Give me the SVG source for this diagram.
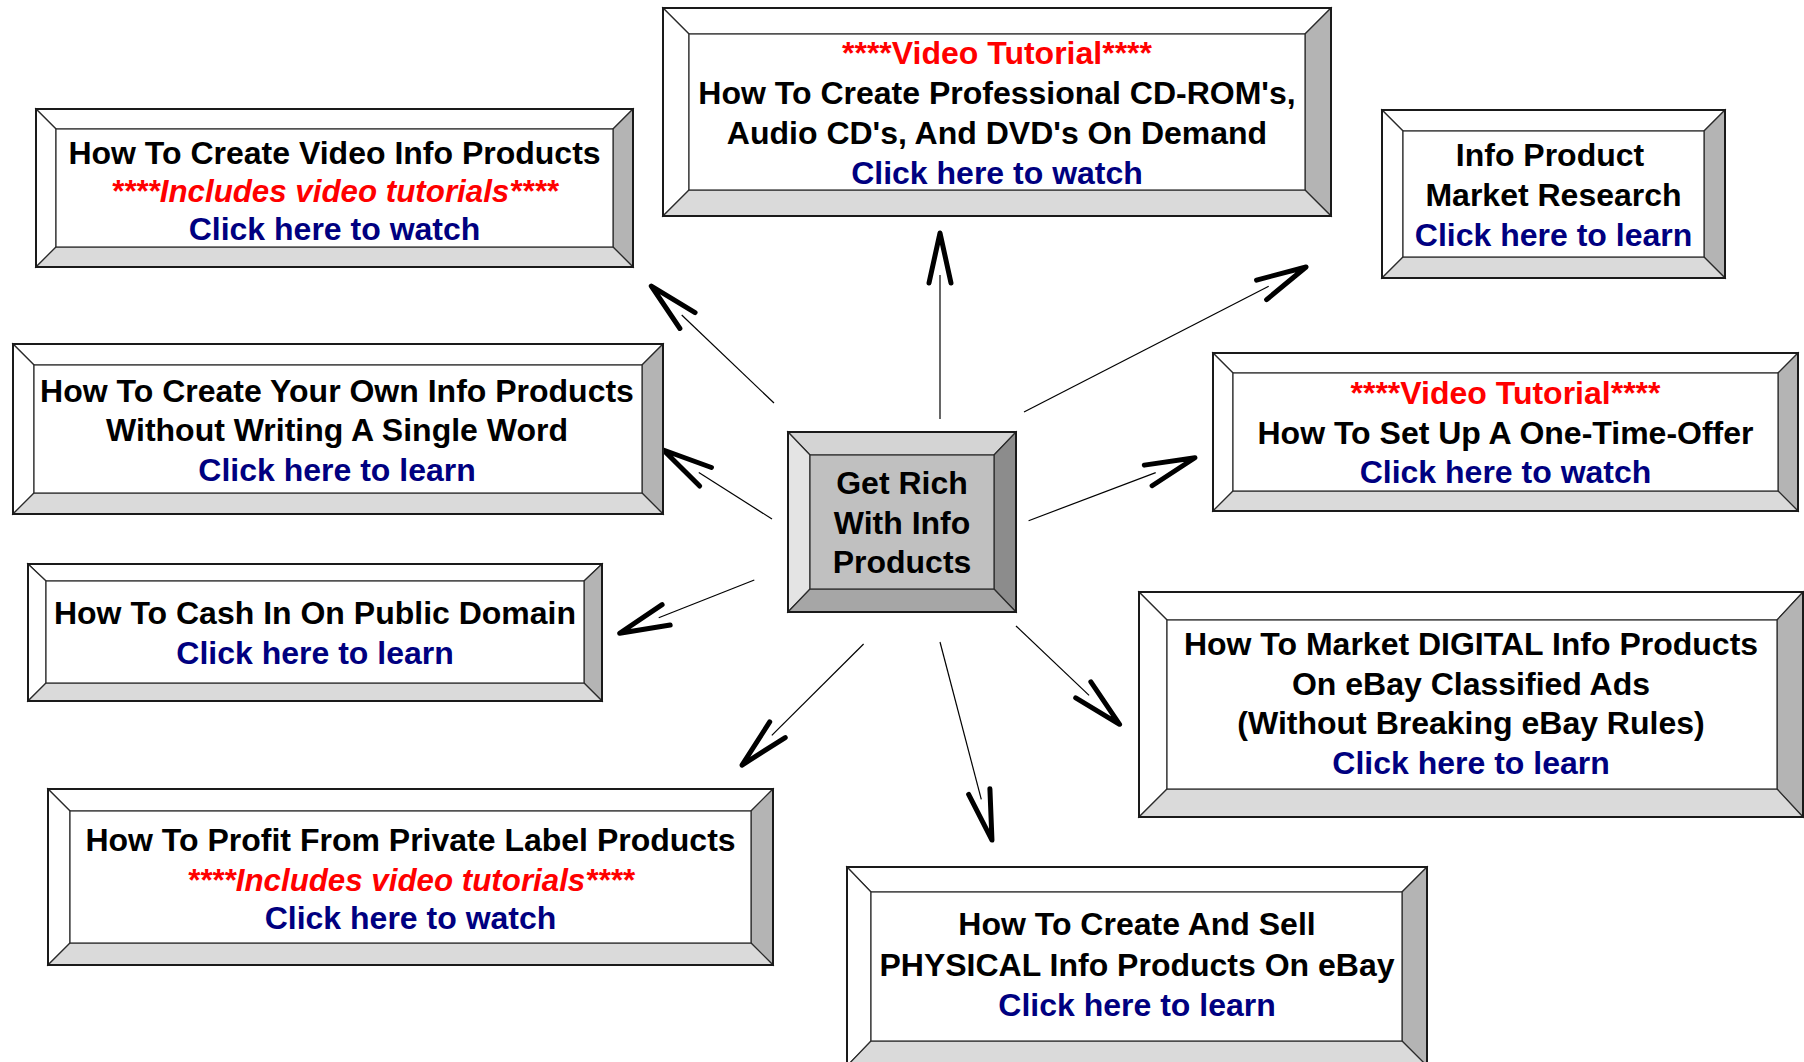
<svg xmlns="http://www.w3.org/2000/svg" width="1804" height="1062" viewBox="0 0 1804 1062">
<style>
  polygon, .in { stroke: #2a2a2a; stroke-width: 1.2; stroke-linejoin: miter; }
  .out { fill: none; stroke: #1a1a1a; stroke-width: 2; }
  .w { fill: #ffffff; }
  .r { fill: #b4b4b4; }
  .b { fill: #dadada; }
  .in { fill: #ffffff; }
  .cl { fill: #e4e4e4; }
  .ct { fill: #d4d4d4; }
  .cr { fill: #8c8c8c; }
  .cb { fill: #a6a6a6; }
  .cf { fill: #c0c0c0; }
  text { font-family: "Liberation Sans", Arial, Helvetica, sans-serif; font-weight: bold; font-size: 32px; text-anchor: middle; fill: #000000; }
  .red { fill: #ff0000; }
  .it { font-style: italic; font-size: 31.3px; }
  .lk { fill: #000080; }
  .ln { stroke: #000000; stroke-width: 1.2; fill: none; marker-end: url(#ah); }
</style>
<defs>
  <marker id="ah" markerUnits="userSpaceOnUse" markerWidth="120" markerHeight="120" viewBox="-60 -60 120 120" refX="-42" refY="0" orient="auto" overflow="visible">
    <path d="M -50 -11 L 0 0 L -50 11" fill="none" stroke="#000000" stroke-width="5" stroke-linecap="round" stroke-linejoin="round"/>
  </marker>
</defs>
<rect x="0" y="0" width="1804" height="1062" fill="#ffffff"/>

<g id="connectors">
  <path class="ln" d="M 774 403 L 681.7 315"/>
  <path class="ln" d="M 940 419 L 940 275"/>
  <path class="ln" d="M 1024 412 L 1268.7 286.2"/>
  <path class="ln" d="M 1028.6 520.7 L 1155.7 472.6"/>
  <path class="ln" d="M 772 519 L 698.8 472.5"/>
  <path class="ln" d="M 754.3 580 L 658.7 617.8"/>
  <path class="ln" d="M 863.6 644 L 771.8 735.4"/>
  <path class="ln" d="M 940 642 L 981.3 799.4"/>
  <path class="ln" d="M 1016 626 L 1089.1 695.4"/>
</g>

<g id="center">
  <polygon class="ct" points="788,432 1016,432 994,455 810,455"/>
  <polygon class="cl" points="788,432 810,455 810,589 788,612"/>
  <polygon class="cr" points="1016,432 1016,612 994,589 994,455"/>
  <polygon class="cb" points="788,612 810,589 994,589 1016,612"/>
  <rect class="in cf" x="810" y="455" width="184" height="134"/>
  <rect class="out" x="788" y="432" width="228" height="180"/>
  <text x="902" y="494">Get Rich</text>
  <text x="902" y="534">With Info</text>
  <text x="902" y="573">Products</text>
</g>

<g id="video-info-products">
  <polygon class="w" points="36,109 633,109 613,129 56,129"/>
  <polygon class="w" points="36,109 56,129 56,247 36,267"/>
  <polygon class="r" points="633,109 633,267 613,247 613,129"/>
  <polygon class="b" points="36,267 56,247 613,247 633,267"/>
  <rect class="in" x="56" y="129" width="557" height="118"/>
  <rect class="out" x="36" y="109" width="597" height="158"/>
  <text x="334.5" y="164">How To Create Video Info Products</text>
  <text x="334.5" y="202" class="red it">****Includes video tutorials****</text>
  <text x="334.5" y="240" class="lk">Click here to watch</text>
</g>

<g id="cd-rom">
  <polygon class="w" points="663,8 1331,8 1305,34 689,34"/>
  <polygon class="w" points="663,8 689,34 689,190 663,216"/>
  <polygon class="r" points="1331,8 1331,216 1305,190 1305,34"/>
  <polygon class="b" points="663,216 689,190 1305,190 1331,216"/>
  <rect class="in" x="689" y="34" width="616" height="156"/>
  <rect class="out" x="663" y="8" width="668" height="208"/>
  <text x="997" y="64" class="red">****Video Tutorial****</text>
  <text x="997" y="104">How To Create Professional CD-ROM's,</text>
  <text x="997" y="143.5">Audio CD's, And DVD's On Demand</text>
  <text x="997" y="183.5" class="lk">Click here to watch</text>
</g>

<g id="market-research">
  <polygon class="w" points="1382,110 1725,110 1704,131 1403,131"/>
  <polygon class="w" points="1382,110 1403,131 1403,257 1382,278"/>
  <polygon class="r" points="1725,110 1725,278 1704,257 1704,131"/>
  <polygon class="b" points="1382,278 1403,257 1704,257 1725,278"/>
  <rect class="in" x="1403" y="131" width="301" height="126"/>
  <rect class="out" x="1382" y="110" width="343" height="168"/>
  <text x="1550" y="166">Info Product</text>
  <text x="1553.5" y="206">Market Research</text>
  <text x="1553.5" y="246" class="lk">Click here to learn</text>
</g>

<g id="one-time-offer">
  <polygon class="w" points="1213,353 1798,353 1778,373 1233,373"/>
  <polygon class="w" points="1213,353 1233,373 1233,491 1213,511"/>
  <polygon class="r" points="1798,353 1798,511 1778,491 1778,373"/>
  <polygon class="b" points="1213,511 1233,491 1778,491 1798,511"/>
  <rect class="in" x="1233" y="373" width="545" height="118"/>
  <rect class="out" x="1213" y="353" width="585" height="158"/>
  <text x="1505.5" y="403.5" class="red">****Video Tutorial****</text>
  <text x="1505.5" y="443.5">How To Set Up A One-Time-Offer</text>
  <text x="1505.5" y="483" class="lk">Click here to watch</text>
</g>

<g id="own-info-products">
  <polygon class="w" points="13,344 663,344 642,365 34,365"/>
  <polygon class="w" points="13,344 34,365 34,493 13,514"/>
  <polygon class="r" points="663,344 663,514 642,493 642,365"/>
  <polygon class="b" points="13,514 34,493 642,493 663,514"/>
  <rect class="in" x="34" y="365" width="608" height="128"/>
  <rect class="out" x="13" y="344" width="650" height="170"/>
  <text x="337" y="401.5">How To Create Your Own Info Products</text>
  <text x="337" y="440.5">Without Writing A Single Word</text>
  <text x="337" y="480.5" class="lk">Click here to learn</text>
</g>

<g id="public-domain">
  <polygon class="w" points="28,564 602,564 584,581 46,581"/>
  <polygon class="w" points="28,564 46,581 46,683 28,701"/>
  <polygon class="r" points="602,564 602,701 584,683 584,581"/>
  <polygon class="b" points="28,701 46,683 584,683 602,701"/>
  <rect class="in" x="46" y="581" width="538" height="102"/>
  <rect class="out" x="28" y="564" width="574" height="137"/>
  <text x="315" y="624">How To Cash In On Public Domain</text>
  <text x="315" y="664" class="lk">Click here to learn</text>
</g>

<g id="private-label">
  <polygon class="w" points="48,789 773,789 751,811 70,811"/>
  <polygon class="w" points="48,789 70,811 70,943 48,965"/>
  <polygon class="r" points="773,789 773,965 751,943 751,811"/>
  <polygon class="b" points="48,965 70,943 751,943 773,965"/>
  <rect class="in" x="70" y="811" width="681" height="132"/>
  <rect class="out" x="48" y="789" width="725" height="176"/>
  <text x="410.5" y="851">How To Profit From Private Label Products</text>
  <text x="410.5" y="890.5" class="red it">****Includes video tutorials****</text>
  <text x="410.5" y="929" class="lk">Click here to watch</text>
</g>

<g id="physical-ebay">
  <polygon class="w" points="847,867 1427,867 1402,892 871,892"/>
  <polygon class="w" points="847,867 871,892 871,1041 847,1066"/>
  <polygon class="r" points="1427,867 1427,1066 1402,1041 1402,892"/>
  <polygon class="b" points="847,1066 871,1041 1402,1041 1427,1066"/>
  <rect class="in" x="871" y="892" width="531" height="149"/>
  <rect class="out" x="847" y="867" width="580" height="199"/>
  <text x="1137" y="935">How To Create And Sell</text>
  <text x="1137" y="975.5">PHYSICAL Info Products On eBay</text>
  <text x="1137" y="1015.5" class="lk">Click here to learn</text>
</g>

<g id="digital-ebay">
  <polygon class="w" points="1139,592 1803,592 1777,620 1167,620"/>
  <polygon class="w" points="1139,592 1167,620 1167,789 1139,817"/>
  <polygon class="r" points="1803,592 1803,817 1777,789 1777,620"/>
  <polygon class="b" points="1139,817 1167,789 1777,789 1803,817"/>
  <rect class="in" x="1167" y="620" width="610" height="169"/>
  <rect class="out" x="1139" y="592" width="664" height="225"/>
  <text x="1471" y="655">How To Market DIGITAL Info Products</text>
  <text x="1471" y="694.5">On eBay Classified Ads</text>
  <text x="1471" y="734">(Without Breaking eBay Rules)</text>
  <text x="1471" y="774" class="lk">Click here to learn</text>
</g>
</svg>
